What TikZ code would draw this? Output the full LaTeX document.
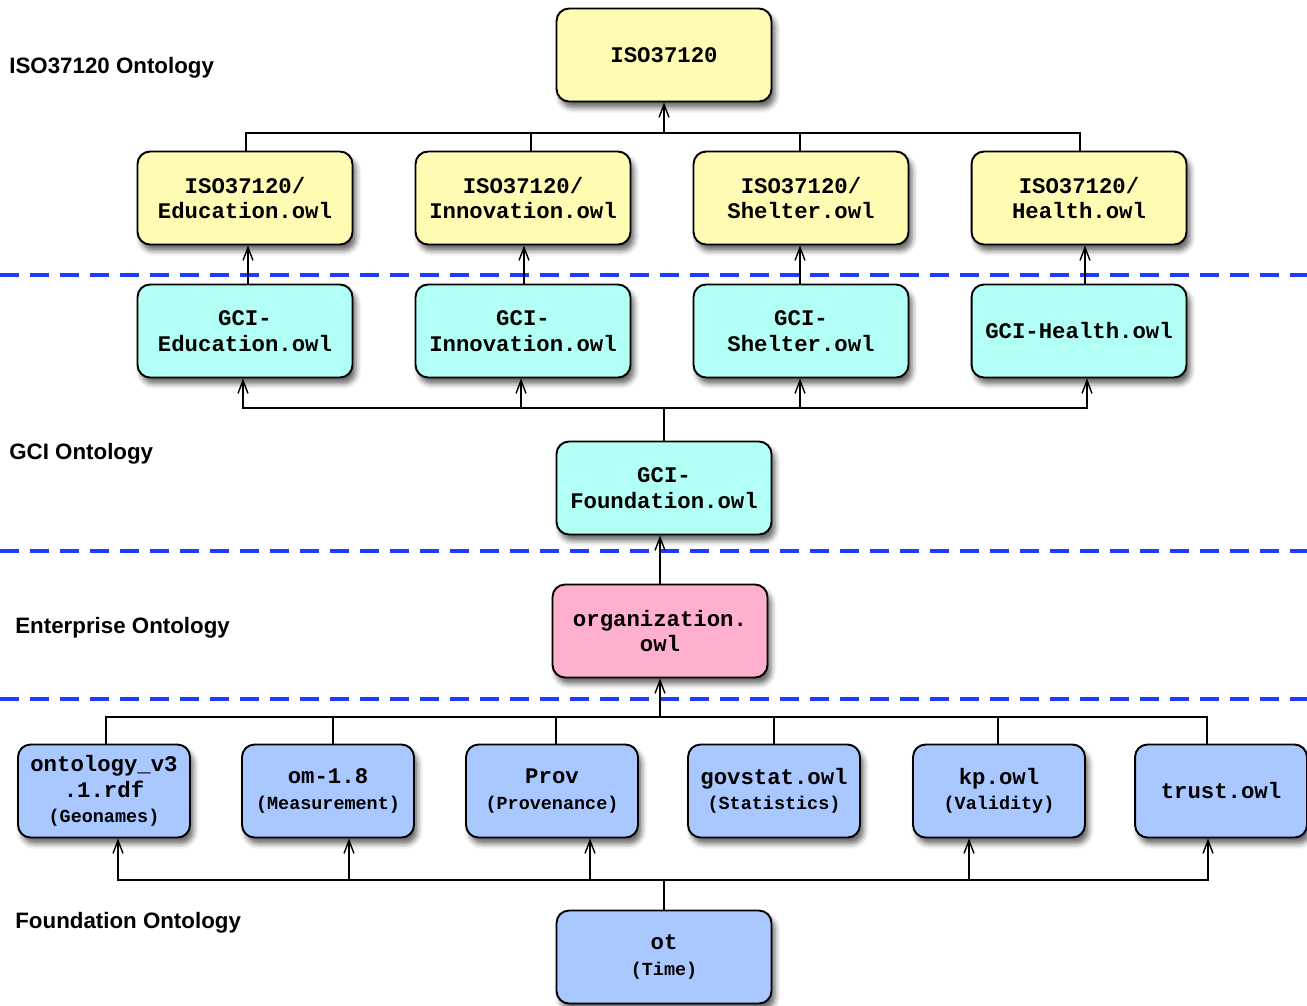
\documentclass[tikz,border=0pt]{standalone}
\usepackage{fontspec}
\setmainfont{Liberation Sans}
\setmonofont{Liberation Mono}
\usetikzlibrary{arrows.meta,calc,shadows.blur}
\definecolor{isoyellow}{RGB}{255,251,178}
\definecolor{gcicyan}{RGB}{178,255,245}
\definecolor{orgpink}{RGB}{255,176,207}
\definecolor{fndblue}{RGB}{169,200,255}
\definecolor{sepblue}{RGB}{30,60,255}
\newcommand\subtxt[1]{{\fontsize{10.5}{12}\selectfont #1}}
\tikzset{
    %Define standard arrow tip
    >={Straight Barb[length=0.26cm,width=0.2cm]},
    % Define arrow style
    pil/.style={
           ->,
           line width=0.8pt},
    % ontology file box
    owl/.style={
           draw=black,
           line width=1.1pt,
           rounded corners=0.25cm,
           minimum width=4.3cm,
           minimum height=1.86cm,
           inner sep=0pt,
           align=center,
           font=\ttfamily\bfseries\fontsize{12.7}{14.5}\selectfont,
           blur shadow={shadow xshift=2pt, shadow yshift=-3.5pt,
                        shadow blur radius=3pt, shadow opacity=60}},
    owl small/.style={owl, minimum width=3.44cm},
    % layer separator
    layer/.style={
           draw=sepblue,
           line width=2.3pt,
           dash pattern=on 0.38cm off 0.22cm},
    layername/.style={
           anchor=west,
           inner sep=0pt,
           font=\bfseries\fontsize{12.7}{15}\selectfont}
}
\begin{document}
\begin{tikzpicture}[x=0.02cm,y=-0.02cm]
\useasboundingbox (0,0) rectangle (1307,1005);

% layer separators
\foreach \yy in {275,551,699}
  \draw[layer] (0,\yy) -- (1307,\yy);

% layer names
\node[layername] (isoname) at (9,68) {ISO37120 Ontology};
\node[layername] (gciname) at (9,454) {GCI Ontology};
\node[layername] (entname) at (15,628) {Enterprise Ontology};
\node[layername] (fndname) at (15,923) {Foundation Ontology};

% ISO37120 layer
\node[owl, fill=isoyellow] (iso) at (664,55) {ISO37120};
\node[owl, fill=isoyellow] (isoedu) at (245,198) {ISO37120/\\Education.owl};
\node[owl, fill=isoyellow] (isoinn) at (523,198) {ISO37120/\\Innovation.owl};
\node[owl, fill=isoyellow] (isoshe) at (801,198) {ISO37120/\\Shelter.owl};
\node[owl, fill=isoyellow] (isohea) at (1079,198) {ISO37120/\\Health.owl};

% GCI layer
\node[owl, fill=gcicyan] (gciedu) at (245,331) {GCI-\\Education.owl};
\node[owl, fill=gcicyan] (gciinn) at (523,331) {GCI-\\Innovation.owl};
\node[owl, fill=gcicyan] (gcishe) at (801,331) {GCI-\\Shelter.owl};
\node[owl, fill=gcicyan] (gcihea) at (1079,331) {GCI-Health.owl};
\node[owl, fill=gcicyan] (gcifound) at (664,488) {GCI-\\Foundation.owl};

% Enterprise layer
\node[owl, fill=orgpink] (org) at (660,631) {organization.\\owl};

% Foundation layer
\node[owl small, fill=fndblue] (geo) at (104,791) {ontology\_v3\\.1.rdf\\\subtxt{(Geonames)}};
\node[owl small, fill=fndblue] (om) at (328,791) {om-1.8\\\subtxt{(Measurement)}};
\node[owl small, fill=fndblue] (prov) at (552,791) {Prov\\\subtxt{(Provenance)}};
\node[owl small, fill=fndblue] (gov) at (774,791) {govstat.owl\\\subtxt{(Statistics)}};
\node[owl small, fill=fndblue] (kp) at (999,791) {kp.owl\\\subtxt{(Validity)}};
\node[owl small, fill=fndblue] (trust) at (1221,791) {trust.owl};
\node[owl, fill=fndblue] (ot) at (664,957) {ot\\\subtxt{(Time)}};

% ISO37120 bus
\coordinate (isobus) at (664,133);
\draw[pil] (isobus) -- (iso.south);
\foreach \n/\dx in {isoedu/1,isoinn/8,isoshe/-1,isohea/1}
  \draw[line width=0.8pt] ($(\n.north)+(\dx,0)$) |- (isobus);

% GCI to ISO37120
\foreach \a/\b/\dx in {gciedu/isoedu/3,gciinn/isoinn/1,gcishe/isoshe/-1,gcihea/isohea/6}
  \draw[pil] ($(\a.north)+(\dx,0)$) -- ($(\b.south)+(\dx,0)$);

% GCI foundation bus
\coordinate (gcibus) at (664,408);
\draw[line width=0.8pt] (gcifound.north) -- (gcibus);
\foreach \n/\dx in {gciedu/-2,gciinn/-2,gcishe/-1,gcihea/8}
  \draw[pil] (gcibus) -| ($(\n.south)+(\dx,0)$);

% organization to GCI foundation
\draw[pil] (org.north) -- (org.north |- gcifound.south);

% foundation bus
\coordinate (orgbus) at (660,717);
\draw[pil] (orgbus) -- (org.south);
\foreach \n/\dx in {geo/2,om/5,prov/4,gov/0,kp/-1,trust/-14}
  \draw[line width=0.8pt] ($(\n.north)+(\dx,0)$) |- (orgbus);

% time bus
\coordinate (otbus) at (664,880);
\draw[line width=0.8pt] (ot.north) -- (otbus);
\foreach \n/\dx in {geo/14,om/21,prov/38,kp/-30,trust/-13}
  \draw[pil] (otbus) -| ($(\n.south)+(\dx,0)$);

\end{tikzpicture}
\end{document}
